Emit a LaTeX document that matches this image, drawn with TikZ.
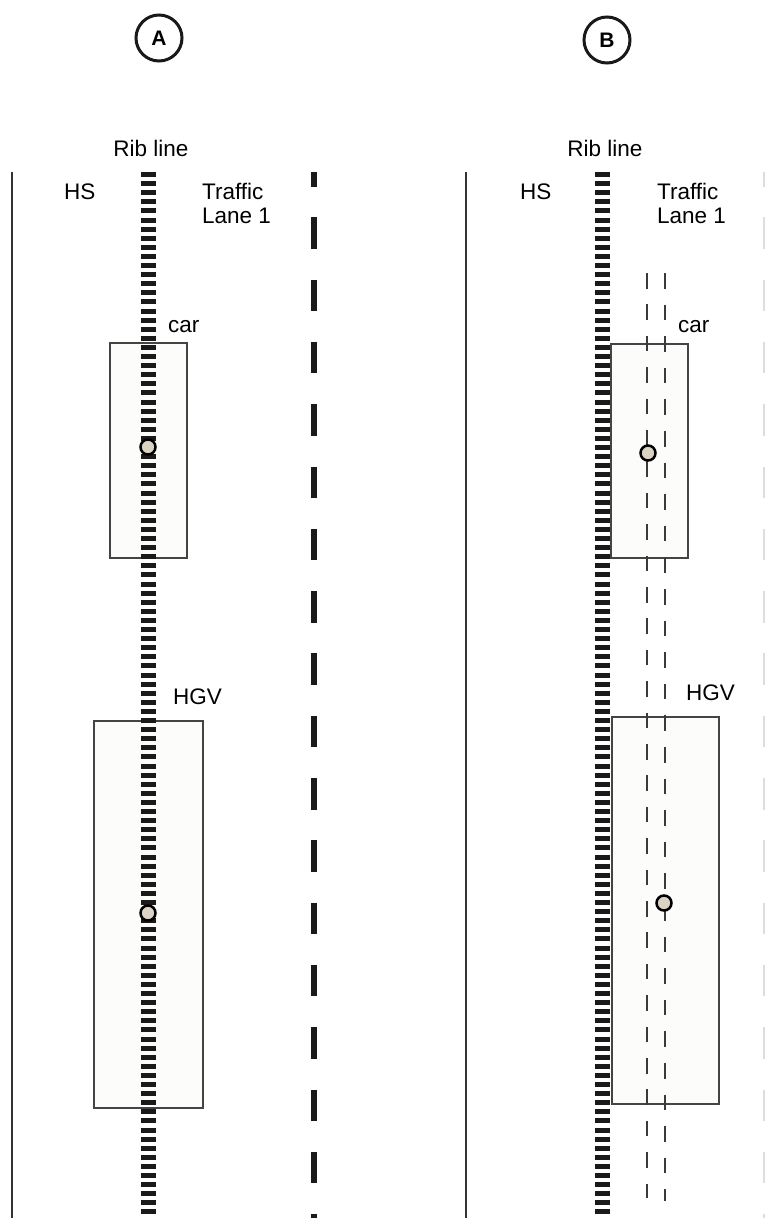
\documentclass[tikz,border=0pt]{standalone}
\usepackage{fontspec}
\setmainfont{Liberation Sans}
\definecolor{ribc}{HTML}{1A1A1A}
\definecolor{boxc}{HTML}{444444}
\definecolor{boxf}{HTML}{FCFCFA}
\definecolor{dotf}{HTML}{DAD3C4}
\definecolor{trk}{HTML}{3A3A3A}
\definecolor{edgec}{HTML}{333333}
\definecolor{fadec}{HTML}{DDDDDD}
\begin{document}
\begin{tikzpicture}[x=1pt,y=-1pt,
  lbl/.style={font=\fontsize{22.5}{27}\selectfont, inner sep=0, anchor=base west},
  panel/.style={circle, draw=black!90, line width=3, minimum size=46, inner sep=0, font=\fontsize{21}{25}\selectfont\bfseries},
  vbox/.style={draw=boxc, fill=boxf, line width=1.5, inner sep=0, outer sep=0},
  ribline/.style={draw=ribc, line width=15, dash pattern=on 5 off 4.1},
  lanemark/.style={draw=ribc, line width=6, dash pattern=on 31.5 off 30.8, dash phase=17},
  fademark/.style={draw=fadec, line width=2, dash pattern=on 31.5 off 30.8, dash phase=17},
  track/.style={draw=trk, line width=1.8},
  cog/.style={circle, draw=black, fill=dotf, line width=2.5, minimum size=15, inner sep=0},
  edgeline/.style={draw=edgec, line width=1.5}]
\useasboundingbox (0,0) rectangle (765,1218);

% panel labels
\node[panel] (pA) at (159,38) {A};
\node[panel] (pB) at (607,40) {B};

% ---------- Panel A ----------
\coordinate (eAt) at (12,172); \coordinate (eAb) at (12,1218);
\draw[edgeline] (eAt) -- (eAb);
\node[vbox, minimum width=77, minimum height=215] (carA) at (148.5,450.5) {};
\node[vbox, minimum width=109, minimum height=387] (hgvA) at (148.5,914.5) {};
\coordinate (rAt) at (148,172); \coordinate (rAb) at (148,1218);
\draw[ribline] (rAt) -- (rAb);
\coordinate (lAt) at (314,172); \coordinate (lAb) at (314,1218);
\draw[lanemark] (lAt) -- (lAb);
\node[cog] (dcarA) at (148,447) {};
\node[cog] (dhgvA) at (148,913) {};
\node[lbl, anchor=base] (ribA) at (151,156) {Rib line};
\node[lbl] (hsA) at (64,199) {HS};
\node[lbl] (trA) at (202,199) {Traffic};
\node[lbl] (lnA) at (202,223) {Lane 1};
\node[lbl] (cA) at (168,332) {car};
\node[lbl] (hA) at (173,704) {HGV};

% ---------- Panel B ----------
\coordinate (eBt) at (466,172); \coordinate (eBb) at (466,1218);
\draw[edgeline] (eBt) -- (eBb);
\node[vbox, minimum width=77, minimum height=214] (carB) at (649.5,451) {};
\node[vbox, minimum width=107, minimum height=387] (hgvB) at (665.5,910.5) {};
\coordinate (rBt) at (602.5,172); \coordinate (rBb) at (602.5,1218);
\draw[ribline] (rBt) -- (rBb);
\coordinate (fBt) at (764,172); \coordinate (fBb) at (764,1218);
\draw[fademark] (fBt) -- (fBb);
\coordinate (t1t) at (647,273); \coordinate (t1b) at (647,1198);
\coordinate (t2t) at (665,273); \coordinate (t2b) at (665,1201);
\draw[track, dash pattern=on 15.5 off 15.9] (t1t) -- (t1b);
\draw[track, dash pattern=on 15.5 off 16.1] (t2t) -- (t2b);
\node[cog] (dcarB) at (648,453) {};
\node[cog] (dhgvB) at (664,903) {};
\node[lbl, anchor=base] (ribB) at (605,156) {Rib line};
\node[lbl] (hsB) at (520,199) {HS};
\node[lbl] (trB) at (657,199) {Traffic};
\node[lbl] (lnB) at (657,223) {Lane 1};
\node[lbl] (cB) at (678,332) {car};
\node[lbl] (hB) at (686,700) {HGV};
\end{tikzpicture}
\end{document}
